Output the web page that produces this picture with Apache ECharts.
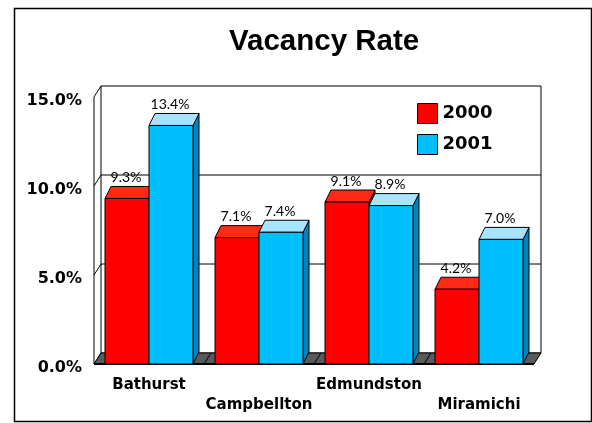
<!DOCTYPE html>
<html>
<head>
<meta charset="utf-8">
<script src="https://cdn.jsdelivr.net/npm/echarts@6/dist/echarts.min.js"></script>
<style>
  html, body { margin: 0; padding: 0; background: #fff; }
  #main { width: 592px; height: 423px; }
</style>
</head>
<body>
<div id="main"></div>
<script>
// data
var cities = ['Bathurst', 'Campbellton', 'Edmundston', 'Miramichi'];
var rate2000 = [9.3, 7.1, 9.1, 4.2];
var rate2001 = [13.4, 7.4, 8.9, 7.0];
var yTicks = [0, 5, 10, 15];

var myChart = echarts.init(document.getElementById('main'));

// depth of the walls and of the bars (pseudo 3d)
var WALL_DX = 7, WALL_DY = 11;
var BAR_DX = 6, BAR_DY = 12;

var FONT = 'Lato, "Open Sans", sans-serif';
var BOLD_FONT = '"DejaVu Sans", Verdana, sans-serif';

var colors = [
    { front: '#ff0000', top: '#ff2a14', side: '#c00000' },
    { front: '#00bfff', top: '#a6e4ff', side: '#0084bf' }
];

function frameRender(params, api) {
    var cs = params.coordSys;
    var x = cs.x, y = cs.y, w = cs.width, h = cs.height;
    var band = api.size([1, 0])[0];
    var kids = [];
    var line = function (x1, y1, x2, y2, lw) {
        kids.push({ type: 'line', shape: { x1: x1, y1: y1, x2: x2, y2: y2 },
            style: { stroke: '#000', lineWidth: lw || 1 } });
    };
    // back wall
    kids.push({ type: 'rect', shape: { x: x + WALL_DX, y: y - WALL_DY, width: w, height: h },
        style: { fill: '#fff', stroke: '#000', lineWidth: 1 } });
    yTicks.forEach(function (v) {
        var yv = api.coord([0, v])[1];
        if (v > 0 && v < 15) line(x + WALL_DX, yv - WALL_DY, x + w + WALL_DX, yv - WALL_DY);
        line(x, yv, x + WALL_DX, yv - WALL_DY);
    });
    // left wall front edge
    line(x, y, x, y + h);
    // floor
    kids.push({ type: 'polygon', shape: { points: [
        [x, y + h], [x + WALL_DX, y + h - WALL_DY], [x + w + WALL_DX, y + h - WALL_DY], [x + w, y + h]
    ] }, style: { fill: '#5a5a5a', stroke: '#000', lineWidth: 1 } });
    for (var i = 1; i < cities.length; i++) {
        var bx = api.coord([i, 0])[0] - band / 2;
        line(bx, y + h, bx + WALL_DX, y + h - WALL_DY);
    }
    line(x, y + h, x + w, y + h, 2);
    return { type: 'group', children: kids };
}

function barRender(s) {
    return function (params, api) {
        var cat = api.value(0), val = api.value(1);
        var base = api.coord([cat, 0]);
        var top = api.coord([cat, val]);
        var band = api.size([1, 0])[0];
        var bw = band * 0.4;
        var x0 = base[0] - bw + s * bw;
        var yt = top[1], yb = base[1];
        var c = colors[s];
        var st = function (fill) { return { fill: fill, stroke: '#000', lineWidth: 1 }; };
        return {
            type: 'group',
            children: [
                { type: 'polygon', shape: { points: [
                    [x0 + bw, yt], [x0 + bw + BAR_DX, yt - BAR_DY], [x0 + bw + BAR_DX, yb - BAR_DY], [x0 + bw, yb]
                ] }, style: st(c.side) },
                { type: 'polygon', shape: { points: [
                    [x0, yt], [x0 + BAR_DX, yt - BAR_DY], [x0 + bw + BAR_DX, yt - BAR_DY], [x0 + bw, yt]
                ] }, style: st(c.top) },
                { type: 'rect', shape: { x: x0, y: yt, width: bw, height: yb - yt }, style: st(c.front) },
                { type: 'text', x: x0 + bw / 2 - 1, y: yt - BAR_DY - 9,
                  style: { text: val.toFixed(1) + '%', fill: '#000', font: '14px ' + FONT,
                           textAlign: 'center', textVerticalAlign: 'middle' } }
            ]
        };
    };
}

function toPairs(arr) {
    return arr.map(function (v, i) { return [i, v]; });
}

option = {
    backgroundColor: '#fff',
    animation: false,
    title: {
        text: 'Vacancy Rate',
        left: 224,
        top: 22,
        textStyle: { fontFamily: '"Liberation Sans", Arial, sans-serif', fontWeight: 'bold', fontSize: 29.5, color: '#000' }
    },
    graphic: [{
        type: 'rect', left: 12, top: 6, z: -10,
        shape: { width: 577, height: 413 },
        style: { fill: 'none', stroke: '#000', lineWidth: 1.5 }
    }],
    legend: {
        data: ['2000', '2001'],
        orient: 'vertical',
        left: 412,
        top: 98,
        itemWidth: 20,
        itemHeight: 20,
        itemGap: 10,
        icon: 'rect',
        selectedMode: false,
        itemStyle: { borderColor: '#000', borderWidth: 1 },
        textStyle: { fontFamily: BOLD_FONT, fontWeight: 'bold', fontSize: 18, color: '#000' }
    },
    grid: { left: 94, right: 58, top: 97, bottom: 59 },
    xAxis: {
        type: 'category',
        data: cities,
        axisLine: { show: false },
        axisTick: { show: false },
        axisLabel: {
            interval: 0,
            margin: 11,
            lineHeight: 20,
            color: '#000',
            fontFamily: BOLD_FONT,
            fontWeight: 'bold',
            fontSize: 15,
            formatter: function (v, i) { return i % 2 ? '\n' + v : v; }
        }
    },
    yAxis: {
        type: 'value',
        min: 0,
        max: 15,
        interval: 5,
        axisLine: { show: false },
        axisTick: { show: false },
        splitLine: { show: false },
        axisLabel: {
            margin: 12,
            color: '#000',
            formatter: function (v) { return '{p|' + v.toFixed(1) + '%}'; },
            rich: {
                p: {
                    fontFamily: BOLD_FONT,
                    fontWeight: 'bold',
                    fontSize: 16,
                    color: '#000',
                    padding: [8, 0, 0, 0]
                }
            }
        }
    },
    series: [{
        name: 'frame',
        type: 'custom',
        silent: true,
        renderItem: frameRender,
        data: [[0, 0]],
        z: 1
    }, {
        name: '2000',
        type: 'custom',
        renderItem: barRender(0),
        itemStyle: { color: colors[0].front },
        data: toPairs(rate2000),
        z: 2
    }, {
        name: '2001',
        type: 'custom',
        renderItem: barRender(1),
        itemStyle: { color: colors[1].front },
        data: toPairs(rate2001),
        z: 3
    }]
};
myChart.setOption(option);
</script>
</body>
</html>
